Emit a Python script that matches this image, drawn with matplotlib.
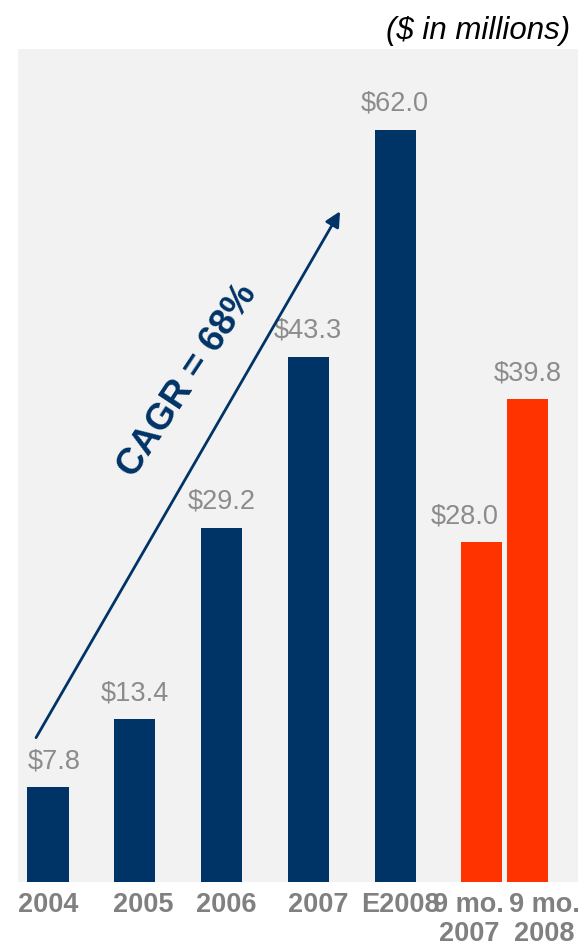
import matplotlib
matplotlib.use("Agg")
import matplotlib.pyplot as plt

# ---- data ----
categories = ["2004", "2005", "2006", "2007", "E2008", "9 mo.\n2007", "9 mo.\n2008"]
values = [7.8, 13.4, 29.2, 43.3, 62.0, 28.0, 39.8]
value_labels = ["$7.8", "$13.4", "$29.2", "$43.3", "$62.0", "$28.0", "$39.8"]
bar_colors = ["#003366"] * 5 + ["#FF3300"] * 2
cagr_text = "CAGR = 68%"
units_text = "($ in millions)"

# ---- layout ----
positions = [0, 1, 2, 3, 4, 5, 5.53]
tick_label_shift = [0.0, 0.10, 0.06, 0.12, 0.06, -0.15, 0.19]   # data units
value_label_shift = [4.5, 0, 0, 0, 0, -12, 0]                    # points
bar_width = 0.473

plt.rcParams['font.family'] = ['Liberation Sans', 'DejaVu Sans']

fig = plt.figure(figsize=(5.78, 9.47), dpi=100)
ax = fig.add_axes([18 / 578, 65 / 947, 560 / 578, 833 / 947])
ax.set_facecolor("#F2F2F2")
for s in ax.spines.values():
    s.set_visible(False)
ax.set_xlim(-0.346, 6.109)
ax.set_ylim(0, 68.68)
ax.set_xticks([])
ax.set_yticks([])

ax.bar(positions, values, width=bar_width, color=bar_colors, linewidth=0)

for p, v, lab, dx in zip(positions, values, value_labels, value_label_shift):
    ax.annotate(lab, xy=(p, v), xytext=(dx, 9.5), textcoords="offset points",
                ha="center", va="bottom", fontsize=19.5, color="#8C8C8C")

for p, lab, dx in zip(positions, categories, tick_label_shift):
    ax.annotate(lab, xy=(p + dx, 0), xycoords=("data", "axes fraction"),
                xytext=(0, -7.5), textcoords="offset points",
                ha="center", va="top", fontsize=19.5, fontweight="bold",
                color="#808080", linespacing=1.15, annotation_clip=False)

# CAGR arrow
ax.annotate("", xy=(3.366, 55.3), xytext=(-0.138, 11.9),
            arrowprops=dict(arrowstyle="-|>,head_length=0.9,head_width=0.45",
                            color="#003366", lw=2, shrinkA=0, shrinkB=0))
ax.text(1.614, 41.3, cagr_text, rotation=56.5, rotation_mode="anchor",
        ha="center", va="center", fontsize=26.5, fontweight="bold", color="#003366")

fig.text(570 / 578, 1 - 31 / 947, units_text, ha="right", va="center",
         fontsize=22.5, style="italic", color="black")

fig.savefig("out.png", dpi=100, facecolor="white")
